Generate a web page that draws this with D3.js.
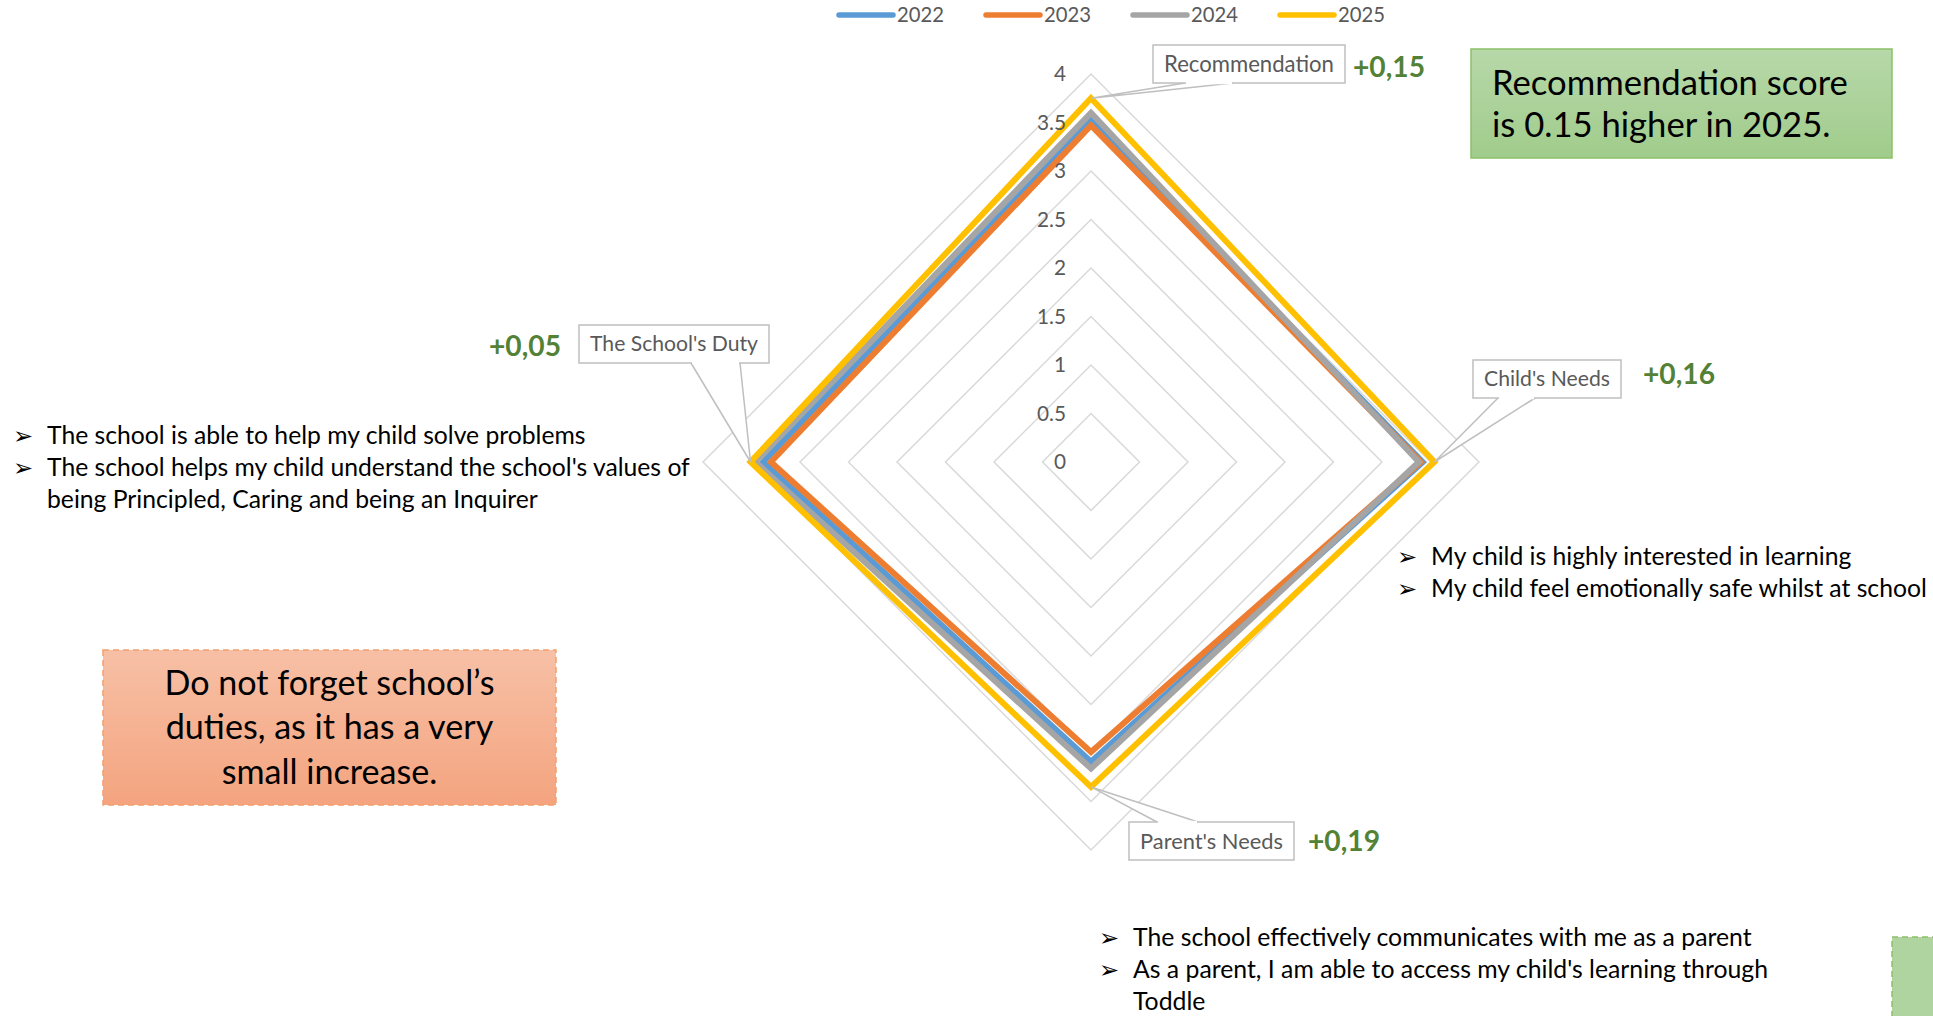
<!DOCTYPE html>
<html><head><meta charset="utf-8">
<script src="https://cdn.jsdelivr.net/npm/d3@7"></script>
<style>
html,body{margin:0;padding:0;background:#fff;}
svg{display:block;}
text{font-family:Lato,"Open Sans",sans-serif;}
</style></head>
<body>
<svg id="chart" width="1933" height="1016"></svg>
<script>
// ---- data ----
const categories = ["Recommendation", "Child's Needs", "Parent's Needs", "The School's Duty"];
const years = ["2022", "2023", "2024", "2025"];
const s2022 = [3.52, 3.42, 3.09, 3.38];
const s2023 = [3.47, 3.40, 2.99, 3.30];
const s2024 = [3.60, 3.38, 3.16, 3.46];
const s2025 = [3.75, 3.54, 3.35, 3.51];
const seriesColors = ["#5B9BD5", "#ED7D31", "#A5A5A5", "#FFC000"];
const ticks = [0, 0.5, 1, 1.5, 2, 2.5, 3, 3.5, 4];
const tickLabels = ["0", "0.5", "1", "1.5", "2", "2.5", "3", "3.5", "4"];
const increases = ["+0,15", "+0,16", "+0,19", "+0,05"];
const bulletsLeft = ["The school is able to help my child solve problems", "The school helps my child understand the school's values of", "being Principled, Caring and being an Inquirer"];
const bulletsLeftArrow = [true, true, false];
const bulletsRight = ["My child is highly interested in learning", "My child feel emotionally safe whilst at school"];
const bulletsBottom = ["The school effectively communicates with me as a parent", "As a parent, I am able to access my child's learning through", "Toddle"];
const bulletsBottomArrow = [true, true, false];
const noteGreen = ["Recommendation score", "is 0.15 higher in 2025."];
const noteOrange = ["Do not forget school\u2019s", "duties, as it has a very", "small increase."];

const allSeries = [s2022, s2023, s2024, s2025];

const svg = d3.select("#chart");
const cx = 1091, cy = 462, R = 388;

function fit(sel, target) {
  const n = sel.node();
  const fs = parseFloat(sel.attr("font-size"));
  const w = n.getComputedTextLength();
  return fs * target / w;
}

const r = d3.scaleLinear().domain([0, 4]).range([0, R]);
const angle = d3.scalePoint().domain(d3.range(categories.length + 1)).range([0, 2 * Math.PI]);
const pt = (i, v) => [cx + r(v) * Math.sin(angle(i)), cy - r(v) * Math.cos(angle(i))];

const defs = svg.append("defs");
const gg = defs.append("linearGradient").attr("id", "gGreen").attr("x1", 0).attr("y1", 0).attr("x2", 0).attr("y2", 1);
gg.append("stop").attr("offset", 0).attr("stop-color", "#B7D8A9");
gg.append("stop").attr("offset", 1).attr("stop-color", "#A1CC8C");
const go = defs.append("linearGradient").attr("id", "gOrange").attr("x1", 0).attr("y1", 0).attr("x2", 0).attr("y2", 1);
go.append("stop").attr("offset", 0).attr("stop-color", "#F7C0A6");
go.append("stop").attr("offset", 1).attr("stop-color", "#F4A47F");

// ---- grid rings ----
const ringLine = d3.lineRadial().angle((d, i) => angle(i)).radius(d => r(d)).curve(d3.curveLinearClosed);
const gGrid = svg.append("g").attr("transform", `translate(${cx},${cy})`);
gGrid.selectAll("path").data(ticks.filter(t => t > 0)).join("path")
  .attr("d", t => ringLine(categories.map(() => t)))
  .attr("fill", "none").attr("stroke", "#D9D9D9").attr("stroke-width", 1.5);

// ---- series ----
const dataLine = d3.lineRadial().angle((d, i) => angle(i)).radius(d => r(d)).curve(d3.curveLinearClosed);
svg.append("g").attr("transform", `translate(${cx},${cy})`)
  .selectAll("path").data(allSeries).join("path")
  .attr("d", d => dataLine(d))
  .attr("fill", "none")
  .attr("stroke", (d, i) => seriesColors[i])
  .attr("stroke-width", 6)
  .attr("stroke-linejoin", "miter");

// ---- tick labels ----
const tl = svg.append("g").selectAll("text").data(ticks).join("text")
  .attr("x", cx - 25).attr("y", t => cy - r(t))
  .attr("dy", "0.35em").attr("text-anchor", "end")
  .attr("fill", "#595959").attr("font-size", 20)
  .text((t, i) => tickLabels[i]);
tl.attr("font-size", fit(tl.filter((d, i) => i === 7), 29));

// ---- legend ----
const lx = d3.scalePoint().domain(years).range([839, 1280]);
const lg = svg.append("g").selectAll("g").data(years).join("g");
lg.append("line").attr("x1", d => lx(d)).attr("x2", d => lx(d) + 54)
  .attr("y1", 15).attr("y2", 15)
  .attr("stroke", (d, i) => seriesColors[i]).attr("stroke-width", 5.5).attr("stroke-linecap", "round");
const lt = lg.append("text").attr("x", d => lx(d) + 58).attr("y", 15).attr("dy", "0.35em")
  .attr("fill", "#595959").attr("font-size", 20).text(d => d);
lt.attr("font-size", fit(lt.filter((d, i) => i === 0), 47));

// ---- callouts ----
const callouts = [
  {box: [1153, 45, 1345, 83], base: [1185, 1233], inc: [1353, 67, "start"]},
  {box: [1473, 360, 1621, 398], base: [1498, 1535], inc: [1643, 374, "start"]},
  {box: [1129, 822, 1294, 860], base: [1157, 1198], inc: [1308, 841, "start"]},
  {box: [579, 325, 769, 363], base: [691, 740], inc: [561, 346, "end"]}
];
const cg = svg.append("g");
callouts.forEach((c, i) => {
  const [x0, y0, x1, y1] = c.box;
  const tip = pt(i, s2025[i]);
  const by = tip[1] > y1 ? y1 : y0;
  cg.append("path")
    .attr("d", `M${c.base[0]},${by}L${tip[0]},${tip[1]}L${c.base[1]},${by}`)
    .attr("fill", "#fff").attr("stroke", "#BFBFBF").attr("stroke-width", 1.5);
  cg.append("rect").attr("x", x0).attr("y", y0).attr("width", x1 - x0).attr("height", y1 - y0)
    .attr("fill", "#fff").attr("stroke", "#BFBFBF").attr("stroke-width", 1.5);
  cg.append("line").attr("x1", c.base[0] + 1).attr("x2", c.base[1] - 1).attr("y1", by).attr("y2", by)
    .attr("stroke", "#fff").attr("stroke-width", 2.5);
  const t = cg.append("text").attr("x", (x0 + x1) / 2).attr("y", (y0 + y1) / 2).attr("dy", "0.35em")
    .attr("text-anchor", "middle").attr("fill", "#595959").attr("font-size", 20).text(categories[i]);
  t.attr("font-size", fit(t, (x1 - x0) - 22));
  const it = cg.append("text").attr("x", c.inc[0]).attr("y", c.inc[1]).attr("dy", "0.35em")
    .attr("text-anchor", c.inc[2]).attr("fill", "#538135").attr("font-weight", "bold")
    .attr("font-size", 26).text(increases[i]);
  it.attr("font-size", fit(it, 72));
});

// ---- bullet texts ----
function bullets(lines, arrows, ax, tx, y0, lh, refIdx, refW) {
  const g = svg.append("g");
  const ts = g.selectAll("text.b").data(lines).join("text").attr("class", "b")
    .attr("x", tx).attr("y", (d, i) => y0 + i * lh).attr("dy", "0.35em")
    .attr("fill", "#000").attr("font-size", 24).text(d => d);
  ts.attr("font-size", fit(ts.filter((d, i) => i === refIdx), refW));
  g.selectAll("text.a").data(lines.filter((d, i) => arrows[i])).join("text").attr("class", "a")
    .attr("x", ax).attr("y", (d, i) => y0 + i * lh + 1).attr("dy", "0.35em")
    .attr("font-family", "DejaVu Sans").attr("font-size", 24).attr("fill", "#000").text("\u27A2");
}
bullets(bulletsLeft, bulletsLeftArrow, 13, 47, 435, 32, 1, 643);
bullets(bulletsRight, [true, true], 1397, 1431, 556, 32, 1, 496);
bullets(bulletsBottom, bulletsBottomArrow, 1099, 1133, 937, 32, 0, 619);

// ---- note boxes ----
svg.append("rect").attr("x", 1471).attr("y", 49).attr("width", 421).attr("height", 109)
  .attr("fill", "url(#gGreen)").attr("stroke", "#8CC168").attr("stroke-width", 1.5);
const ng = svg.append("g").selectAll("text").data(noteGreen).join("text")
  .attr("x", 1492).attr("y", (d, i) => 83 + i * 42).attr("dy", "0.35em")
  .attr("fill", "#000").attr("font-size", 32).text(d => d);
ng.attr("font-size", fit(ng.filter((d, i) => i === 0), 356));

svg.append("rect").attr("x", 103).attr("y", 650).attr("width", 453).attr("height", 155)
  .attr("fill", "url(#gOrange)").attr("stroke", "#F4A06C").attr("stroke-width", 1.5)
  .attr("stroke-dasharray", "6,4");
const no = svg.append("g").selectAll("text").data(noteOrange).join("text")
  .attr("x", 329.5).attr("y", (d, i) => 683 + i * 44.5).attr("dy", "0.35em")
  .attr("text-anchor", "middle").attr("fill", "#000").attr("font-size", 32).text(d => d);
no.attr("font-size", fit(no.filter((d, i) => i === 0), 330));

svg.append("rect").attr("x", 1892).attr("y", 937).attr("width", 80).attr("height", 120)
  .attr("fill", "#B0D49F").attr("stroke", "#8CC168").attr("stroke-width", 1.5)
  .attr("stroke-dasharray", "6,4");
</script>
</body></html>
